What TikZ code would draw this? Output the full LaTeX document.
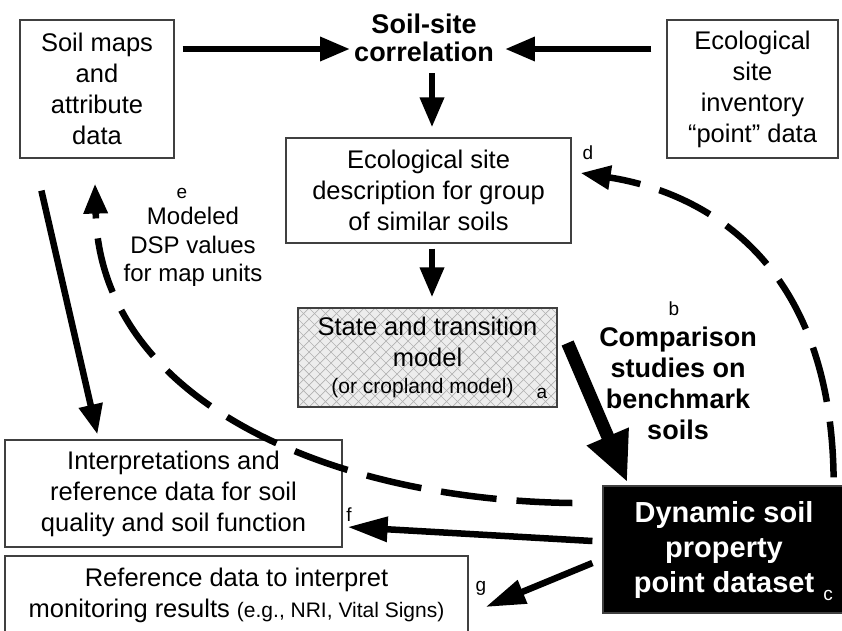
\documentclass[tikz,border=0pt]{standalone}
\usepackage{fontspec}
\setmainfont{Liberation Sans}
\usetikzlibrary{arrows.meta,calc}
\newcommand\fmain{\fontsize{25.5}{31}\selectfont}
\newcommand\fcorr{\fontsize{27}{28}\selectfont\bfseries}
\newcommand\fcomp{\fontsize{27}{31}\selectfont\bfseries}
\newcommand\fdsp{\fontsize{29}{35}\selectfont\bfseries}
\newcommand\fsub{\fontsize{21}{25}\selectfont}
\newcommand\flab{\fontsize{19}{22}\selectfont}
\newcommand\fmod{\fontsize{24}{28.5}\selectfont}
\begin{document}
\begin{tikzpicture}[x=1pt,y=-1pt,
  box/.style={draw=black!75, line width=1.2pt, fill=white, align=center, font=\fmain, inner sep=0pt},
  txt/.style={align=center, inner sep=0pt},
  lbl/.style={font=\flab, inner sep=0pt},
  arr/.style={line width=6.5pt, -{Triangle[length=30pt,width=23pt]}},
  longarr/.style={line width=6.5pt, -{Triangle[length=40pt,width=24pt]}},
  bigarr/.style={line width=13pt, -{Triangle[length=50pt,width=42pt]}},
  dasharr/.style={line width=6.5pt, dash pattern=on 56pt off 20pt, -{Triangle[length=30pt,width=23pt]}},
]
\useasboundingbox (0,0) rectangle (842,630);
\clip (0,0) rectangle (842,630);
\fill[white] (0,0) rectangle (842,630);

% boxes
\node[box, minimum width=154pt, minimum height=138pt] (soil) at (97,89) {Soil maps\\and\\attribute\\data};
\node[txt, font=\fcorr] (corr) at (424,38) {Soil-site\\correlation};
\node[box, minimum width=171pt, minimum height=138pt] (inv) at (752.5,89) {Ecological\\site\\inventory\\“point” data};
\node[box, minimum width=285pt, minimum height=105pt] (esd) at (428.5,190.5) {Ecological site\\description for group\\of similar soils};

% crosshatch fill of the state and transition box
\begin{scope}
  \clip (298,308) rectangle (557,407);
  \fill[gray!14] (298,308) rectangle (557,407);
  \foreach \k in {-10,...,34} {
    \draw[gray!60, line width=0.7pt] ({298+\k*11},308) -- ++(99,99);
    \draw[gray!60, line width=0.7pt] ({298+\k*11},308) -- ++(-99,99);
  }
\end{scope}
\node[box, fill=none, minimum width=259pt, minimum height=99pt] (stm) at (427.5,357.5) {State and transition\\model\\[-4pt]{\fsub (or cropland model)}\hspace*{10pt}};

\node[box, minimum width=337pt, minimum height=107pt] (interp) at (173.5,493.5) {Interpretations and\\reference data for soil\\quality and soil function};
\node[box, minimum width=463pt, minimum height=78pt] (ref) at (236.5,595) {Reference data to interpret\\monitoring results {\fsub (e.g., NRI, Vital Signs)}};
\node[box, fill=black, text=white, font=\fdsp, minimum width=242pt, minimum height=127pt] (dsp) at (724,549.5) {Dynamic soil\\property\\point dataset};

% free texts
\node[txt, font=\fcomp] (comp) at (678,383) {Comparison\\studies on\\benchmark\\soils};
\node[txt, font=\fmod] (model) at (193,247) {Modeled\\DSP values\\for map units};

% letter labels
\node[lbl] (la) at (542,393) {a};
\node[lbl] (lb) at (674,309) {b};
\node[lbl, text=white] (lc) at (828,595) {c};
\node[lbl] (ld) at (588,153) {d};
\node[lbl] (le) at (182,193) {e};
\node[lbl] (lf) at (349,515) {f};
\node[lbl] (lg) at (481,588) {g};

% connectors
\draw[arr] ($(soil.east)+(8,-40)$) -- ($(corr.west)+(-4,11)$);
\draw[arr] ($(inv.west)+(-15,-40)$) -- ($(corr.east)+(11,11)$);
\draw[arr] ($(esd.north |- corr.south)+(3.5,11)$) -- ($(esd.north)+(3.5,-10)$);
\draw[arr] ($(esd.south)+(3.5,5)$) -- ($(stm.north)+(4.5,-10)$);
\draw[bigarr] ($(stm.east)+(10,-14.5)$) -- ($(dsp.north west)+(25,-3)$);
\draw[arr] ($(soil.south west)+(22,32)$) -- ($(interp.north west)+(93,-5)$);
\draw[dasharr] ($(dsp.north east)+(-12,-8)$) .. controls +(-3,-228) and +(110,17) .. ($(esd.east)+(9,-17.5)$);
\draw[dasharr] ($(dsp.west)+(-30,-46.5)$) .. controls +(-243,-3) and +(5,217) .. ($(soil.south)+(-2,25)$);
\draw[longarr] ($(dsp.west)+(-10,-8.5)$) -- ($(interp.east)+(5,33.5)$);
\draw[longarr] ($(dsp.west)+(-10,13.5)$) -- ($(ref.east)+(17,12)$);
\end{tikzpicture}
\end{document}
